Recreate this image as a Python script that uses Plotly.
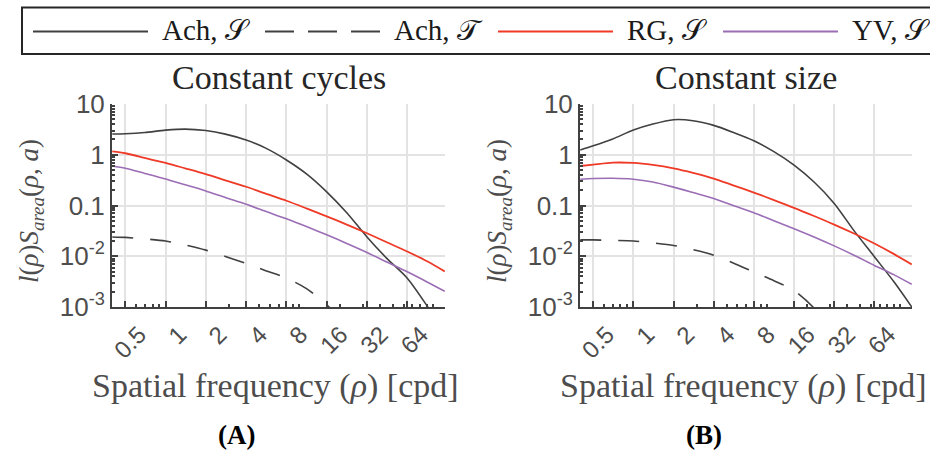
import math
import plotly.graph_objects as go

# ---------------- data ----------------
freq = [0.4, 0.5, 0.7, 1, 1.4, 2, 2.8, 4, 5.6, 8, 11.3, 16, 22.6, 32, 45, 64, 90, 122]

# (A) Constant cycles
A_ach_S = [2.56, 2.6, 2.75, 3.05, 3.2, 3.0, 2.55, 1.95, 1.35, 0.79, 0.42, 0.186, 0.072, 0.024, 0.0091, 0.0037, 0.00105, 0.0003]
A_ach_T = [0.024, 0.0235, 0.022, 0.020, 0.0167, 0.0132, 0.0099, 0.0072, 0.0052, 0.0037, 0.0023, 0.0011, 0.00045, 0.00016, None, None, None, None]
A_rg_S = [1.16, 1.07, 0.869, 0.69, 0.54, 0.415, 0.314, 0.234, 0.171, 0.124, 0.0877, 0.0612, 0.0421, 0.0284, 0.0189, 0.0124, 0.00798, 0.00503]
A_yv_S = [0.6, 0.54, 0.429, 0.334, 0.256, 0.194, 0.144, 0.106, 0.0767, 0.0547, 0.0384, 0.0264, 0.0179, 0.0119, 0.0077, 0.00494, 0.00312, 0.00204]

# (B) Constant size
B_ach_S = [1.24, 1.5, 2.05, 3.07, 4.03, 4.91, 4.69, 3.79, 2.76, 1.89, 1.15, 0.625, 0.29, 0.11, 0.032, 0.0098, 0.0031, 0.001]
B_ach_T = [0.021, 0.021, 0.0205, 0.020, 0.0183, 0.0163, 0.0135, 0.0105, 0.0074, 0.0049, 0.0033, 0.0021, 0.00095, 0.0003, None, None, None, None]
B_rg_S = [0.6, 0.64, 0.7, 0.69, 0.63, 0.54, 0.44, 0.34, 0.25, 0.18, 0.128, 0.09, 0.062, 0.042, 0.028, 0.0178, 0.011, 0.0069]
B_yv_S = [0.33, 0.34, 0.345, 0.33, 0.29, 0.23, 0.18, 0.138, 0.1, 0.072, 0.05, 0.035, 0.024, 0.016, 0.0105, 0.0066, 0.0043, 0.0028]

x_ticks = [0.5, 1, 2, 4, 8, 16, 32, 64]
x_ticktext = ["0.5", "1", "2", "4", "8", "16", "32", "64"]
x_minor = [0.4, 0.6, 0.7, 0.8, 0.9, 3, 5, 6, 7, 9, 10, 20, 30, 40, 50, 60, 70, 80, 90, 100]
y_ticks = [0.001, 0.01, 0.1, 1, 10]
y_ticktext = ["10<sup>-3</sup>", "10<sup>-2</sup>", "0.1", "1", "10"]
y_minor = [m * d for d in [0.001, 0.01, 0.1, 1] for m in range(2, 10)]

series_names = ["Ach, 𝒮", "Ach, 𝒯", "RG, 𝒮", "YV, 𝒮"]
titles = ["Constant cycles", "Constant size"]
panel_labels = ["(A)", "(B)"]

# ---------------- style ----------------
C_ACH = "#404040"
C_RG = "#EE3A26"
C_YV = "#9B6DB5"
SERIF = "Liberation Serif, Times New Roman, serif"
SANS = "Liberation Sans, Arial, sans-serif"
W, H = 930, 456

styles = [
    dict(color=C_ACH, width=1.6, dash="solid"),
    dict(color=C_ACH, width=1.6, dash="21px,17px"),
    dict(color=C_RG, width=1.8, dash="solid"),
    dict(color=C_YV, width=1.6, dash="solid"),
]

fig = go.Figure()
panels = [
    ("x", "y", [A_ach_S, A_ach_T, A_rg_S, A_yv_S]),
    ("x2", "y2", [B_ach_S, B_ach_T, B_rg_S, B_yv_S]),
]
for pi, (xa, ya, ys) in enumerate(panels):
    for si, yv in enumerate(ys):
        fig.add_trace(go.Scatter(
            x=freq, y=yv, xaxis=xa, yaxis=ya, mode="lines",
            line=dict(shape="spline", smoothing=0.8, **styles[si]),
            name=series_names[si], showlegend=False, connectgaps=False,
        ))

px_l = [112, 580]
px_r = [445, 912]
y_top, y_bot = 104, 307

def PX(v):
    return v / W

def PY(v):
    return 1 - v / H

ydom = [PY(y_bot), PY(y_top)]

axis_common = dict(
    type="log", showline=True, linecolor="#404040", linewidth=2,
    ticks="inside", ticklen=6, tickwidth=1.5, tickcolor="#404040",
    showgrid=True, gridcolor="#E3E3E3", gridwidth=1.5,
    zeroline=False, mirror=False,
)
xrange = [math.log10(0.398), math.log10(122.5)]
yrange = [-3, 1]

for i, (xa, ya) in enumerate([("xaxis", "yaxis"), ("xaxis2", "yaxis2")]):
    fig.layout[xa] = dict(
        axis_common, domain=[PX(px_l[i]), PX(px_r[i])], range=xrange,
        anchor="y" if i == 0 else "y2",
        tickmode="array", tickvals=x_ticks, ticktext=x_ticktext, tickangle=-45,
        ticklabelshift=14, ticklabelstandoff=2,
        tickfont=dict(family=SANS, size=24, color="#4D4D4D"),
        minor=dict(tickmode="array", tickvals=x_minor, ticks="inside", ticklen=3,
                   tickwidth=1.5, tickcolor="#404040", showgrid=False),
    )
    fig.layout[ya] = dict(
        axis_common, domain=ydom, range=yrange, anchor="x" if i == 0 else "x2",
        tickmode="array", tickvals=y_ticks, ticktext=y_ticktext,
        tickfont=dict(family=SANS, size=26, color="#4D4D4D"),
        minor=dict(tickmode="array", tickvals=y_minor, ticks="inside", ticklen=3,
                   tickwidth=1.5, tickcolor="#404040", showgrid=False),
    )

ann = []
for i in range(2):
    cx = (px_l[i] + px_r[i]) / 2
    ann.append(dict(text=titles[i], x=PX(cx), y=PY(77), xref="paper", yref="paper",
                    showarrow=False, font=dict(family=SERIF, size=34, color="#262626"),
                    xanchor="center", yanchor="middle"))
    ann.append(dict(text="Spatial frequency (<i>ρ</i>) [cpd]", x=PX(cx - 3), y=PY(386),
                    xref="paper", yref="paper", showarrow=False,
                    font=dict(family=SERIF, size=34, color="#4D4D4D"),
                    xanchor="center", yanchor="middle"))
    ann.append(dict(text="<i>l</i>(<i>ρ</i>)<i>S</i><sub><i>area</i></sub>(<i>ρ</i>, <i>a</i>)",
                    x=PX(px_l[i] - 81), y=PY(211), xref="paper", yref="paper",
                    showarrow=False, textangle=-90,
                    font=dict(family=SERIF, size=27, color="#4D4D4D"),
                    xanchor="center", yanchor="middle"))
    ann.append(dict(text="<b>" + panel_labels[i] + "</b>", x=PX(cx - 42), y=PY(435),
                    xref="paper", yref="paper", showarrow=False,
                    font=dict(family=SERIF, size=27, color="#000000"),
                    xanchor="center", yanchor="middle"))

# ---------------- legend (drawn in paper space) ----------------
leg_line_x = [33, 265, 498, 723]
leg_len = 115
leg_y = 31.5
shapes = [dict(type="rect", xref="paper", yref="paper",
               x0=PX(22), x1=PX(960), y0=PY(54), y1=PY(7.5),
               line=dict(color="#262626", width=2), fillcolor="white", layer="above")]
for si, lx in enumerate(leg_line_x):
    st = styles[si]
    dash = "29px,14px" if si == 1 else "solid"
    shapes.append(dict(type="line", xref="paper", yref="paper",
                       x0=PX(lx), x1=PX(lx + leg_len), y0=PY(leg_y), y1=PY(leg_y),
                       line=dict(color=st["color"], width=2, dash=dash), layer="above"))
    ann.append(dict(text=series_names[si], x=PX(lx + leg_len + 12), y=PY(30),
                    xref="paper", yref="paper", showarrow=False,
                    font=dict(family=SERIF, size=29, color="#1A1A1A"),
                    xanchor="left", yanchor="middle"))

fig.update_layout(
    width=W, height=H,
    margin=dict(l=0, r=0, t=0, b=0, autoexpand=False),
    paper_bgcolor="white", plot_bgcolor="white",
    annotations=ann, shapes=shapes, showlegend=False,
)

fig.write_html("out.html")
